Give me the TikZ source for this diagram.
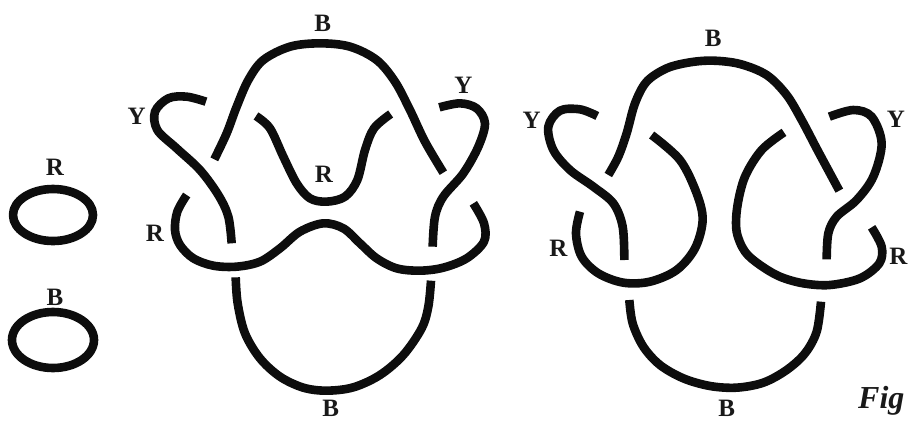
\documentclass[tikz,border=0pt]{standalone}
\usepackage{fontspec}
\setmainfont{Liberation Serif}
\tikzset{
  strand/.style={draw=black!95,line width=8.6pt,line cap=butt,line join=round},
  lab/.style={inner sep=0pt,font=\fontsize{25}{25}\selectfont\bfseries,text=black!90},
  smoothy/.style={smooth,tension=0.55}
}
\begin{document}
\begin{tikzpicture}[x=1pt,y=-1pt]
\useasboundingbox (0,0) rectangle (908,421);
% left rings
\draw[strand] (53,215) ellipse [x radius=40,y radius=26];
\draw[strand] (53,340) ellipse [x radius=41,y radius=28];
\node[lab] (r0) at (55,167) {R};
\node[lab] (b0) at (55,297) {B};
% left knot
\begin{scope}[x=0.33333pt,y=-0.33333pt,shift={(360,0)}]
\draw[strand] plot[smoothy] coordinates {(283,478)(320,400)(350,320)(385,240)(430,180)(510,140)(600,130)(690,140)(770,180)(825,245)(870,330)(915,425)(970,518)};
\draw[strand] plot[smoothy] coordinates {(258,305)(200,290)(145,295)(105,335)(112,390)(170,445)(240,510)(295,585)(325,650)(335,730)};
\draw[strand] plot[smoothy] coordinates {(200,585)(172,635)(165,690)(180,735)(220,775)(280,797)(350,800)(420,785)(480,745)(540,695)(610,670)(670,685)(720,730)(770,775)(830,805)(900,812)(970,803)(1040,775)(1092,725)(1092,670)(1060,610)};
\draw[strand] plot[smoothy] coordinates {(958,322)(1020,310)(1070,325)(1095,370)(1075,440)(1030,520)(970,590)(945,650)(938,740)};
\draw[strand] plot[smoothy] coordinates {(408,348)(450,385)(490,470)(530,550)(570,595)(620,605)(675,590)(712,540)(735,450)(762,385)(812,342)};
\draw[strand] plot[smoothy] coordinates {(347,832)(353,910)(375,1000)(420,1075)(480,1130)(550,1163)(620,1172)(700,1162)(780,1125)(850,1065)(905,985)(925,920)(933,842)};
\node[lab] (b1) at (608,70) {B};
\node[lab] (y1) at (50,350) {Y};
\node[lab] (y2) at (1030,255) {Y};
\node[lab] (r1) at (612,522) {R};
\node[lab] (r2) at (105,700) {R};
\node[lab] (b2) at (632,1226) {B};
\end{scope}
% right knot
\begin{scope}[x=0.33333pt,y=-0.33333pt,shift={(1530,0)}]
\draw[strand] plot[smoothy] coordinates {(295,525)(325,470)(350,400)(375,310)(410,245)(470,205)(540,187)(610,182)(690,192)(770,225)(830,285)(875,360)(925,455)(988,572)};
\draw[strand] plot[smoothy] coordinates {(262,348)(210,328)(150,332)(115,380)(130,450)(180,510)(250,560)(310,610)(338,680)(343,780)};
\draw[strand] plot[smoothy] coordinates {(210,635)(198,700)(215,770)(265,820)(340,848)(420,845)(500,810)(555,745)(578,660)(560,580)(510,480)(425,405)};
\draw[strand] plot[smoothy] coordinates {(822,397)(755,450)(705,530)(682,620)(680,695)(705,755)(750,795)(810,830)(880,850)(960,855)(1050,835)(1108,790)(1115,740)(1085,682)};
\draw[strand] plot[smoothy] coordinates {(958,350)(1030,330)(1085,350)(1115,430)(1090,530)(1040,600)(980,650)(955,700)(950,778)};
\draw[strand] plot[smoothy] coordinates {(358,900)(368,970)(400,1040)(450,1095)(520,1135)(600,1158)(680,1163)(760,1148)(830,1110)(885,1060)(920,995)(933,905)};
\node[lab] (b3) at (610,115) {B};
\node[lab] (y3) at (65,362) {Y};
\node[lab] (y4) at (1158,358) {Y};
\node[lab] (r3) at (145,745) {R};
\node[lab] (r4) at (1165,770) {R};
\node[lab] (b4) at (650,1225) {B};
\end{scope}
\node[inner sep=0pt,anchor=base west,font=\fontsize{32}{32}\selectfont\itshape\bfseries,text=black!90] (fig) at (858,408) {Fig};
\end{tikzpicture}
\end{document}
